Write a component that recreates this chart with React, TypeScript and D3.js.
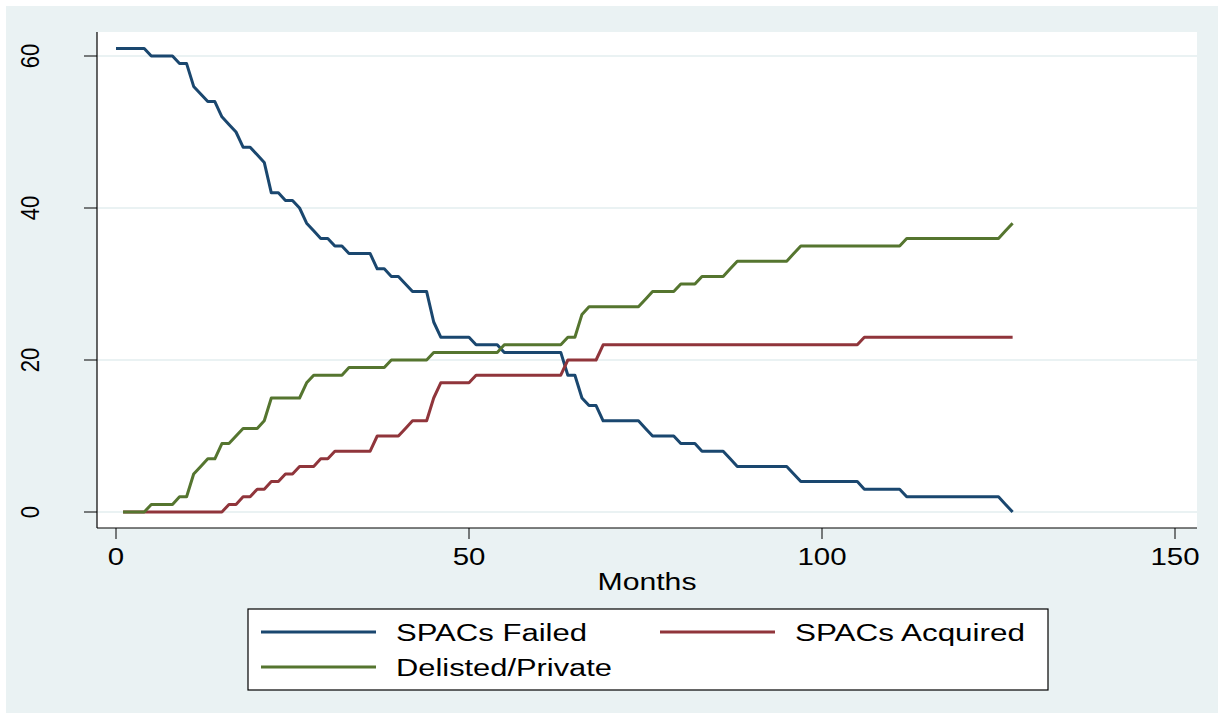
import React from "react";
import * as d3 from "d3";

// months since IPO, one value per month
const failedStart = 0;
const otherStart = 1;

const failed = [
    61, 61, 61, 61, 61, 60, 60, 60, 60, 59, 59, 56, 55, 54, 54, 52, 51, 50, 48, 48,
    47, 46, 42, 42, 41, 41, 40, 38, 37, 36, 36, 35, 35, 34, 34, 34, 34, 32, 32, 31,
    31, 30, 29, 29, 29, 25, 23, 23, 23, 23, 23, 22, 22, 22, 22, 21, 21, 21, 21, 21,
    21, 21, 21, 21, 18, 18, 15, 14, 14, 12, 12, 12, 12, 12, 12, 11, 10, 10, 10, 10,
    9, 9, 9, 8, 8, 8, 8, 7, 6, 6, 6, 6, 6, 6, 6, 6, 5, 4, 4, 4,
    4, 4, 4, 4, 4, 4, 3, 3, 3, 3, 3, 3, 2, 2, 2, 2, 2, 2, 2, 2,
    2, 2, 2, 2, 2, 2, 1, 0
];

const acquired = [
    0, 0, 0, 0, 0, 0, 0, 0, 0, 0, 0, 0, 0, 0, 0, 1, 1, 2, 2, 3,
    3, 4, 4, 5, 5, 6, 6, 6, 7, 7, 8, 8, 8, 8, 8, 8, 10, 10, 10, 10,
    11, 12, 12, 12, 15, 17, 17, 17, 17, 17, 18, 18, 18, 18, 18, 18, 18, 18, 18, 18,
    18, 18, 18, 20, 20, 20, 20, 20, 22, 22, 22, 22, 22, 22, 22, 22, 22, 22, 22, 22,
    22, 22, 22, 22, 22, 22, 22, 22, 22, 22, 22, 22, 22, 22, 22, 22, 22, 22, 22, 22,
    22, 22, 22, 22, 22, 23, 23, 23, 23, 23, 23, 23, 23, 23, 23, 23, 23, 23, 23, 23,
    23, 23, 23, 23, 23, 23, 23
];

const delisted = [
    0, 0, 0, 0, 1, 1, 1, 1, 2, 2, 5, 6, 7, 7, 9, 9, 10, 11, 11, 11,
    12, 15, 15, 15, 15, 15, 17, 18, 18, 18, 18, 18, 19, 19, 19, 19, 19, 19, 20, 20,
    20, 20, 20, 20, 21, 21, 21, 21, 21, 21, 21, 21, 21, 21, 22, 22, 22, 22, 22, 22,
    22, 22, 22, 23, 23, 26, 27, 27, 27, 27, 27, 27, 27, 27, 28, 29, 29, 29, 29, 30,
    30, 30, 31, 31, 31, 31, 32, 33, 33, 33, 33, 33, 33, 33, 33, 34, 35, 35, 35, 35,
    35, 35, 35, 35, 35, 35, 35, 35, 35, 35, 35, 36, 36, 36, 36, 36, 36, 36, 36, 36,
    36, 36, 36, 36, 36, 37, 38
];

const xTicks = [0, 50, 100, 150];
const yTicks = [0, 20, 40, 60];

const series = [
    { name: "SPACs Failed", values: failed, start: failedStart, color: "#1a476f" },
    { name: "SPACs Acquired", values: acquired, start: otherStart, color: "#90353b" },
    { name: "Delisted/Private", values: delisted, start: otherStart, color: "#55752f" }
];

const W = 1223;
const H = 719;
const plot = { left: 97, right: 1197, top: 32, bottom: 528 };
const font = "'Liberation Sans', Arial, Helvetica, sans-serif";
const bg = "#eaf2f3";
const stretch = 1.28; // the original's text is drawn wide

export default function App() {
    const x = d3.scaleLinear().domain([0, 150]).range([116, 1175]);
    const y = d3.scaleLinear().domain([0, 60]).range([512, 56]);

    const pathFor = (s) =>
        d3.line<number>()
            .x((d, i) => x(s.start + i))
            .y(d => y(d))(s.values);

    // legend layout: two columns, two rows
    const legendRows = [
        { s: series[0], lx: 261, tx: 396, ty: 632, tw: 191 },
        { s: series[1], lx: 660, tx: 795, ty: 632, tw: 230 },
        { s: series[2], lx: 261, tx: 396, ty: 667, tw: 216 }
    ];

    return (
        <svg width={W} height={H} style={{ position: "absolute", left: 0, top: 0 }}
            fontFamily={font}>
            <rect x={0} y={0} width={W} height={H} fill="#ffffff" />
            <rect x={6} y={6} width={1212} height={707} fill={bg} />
            <rect x={plot.left} y={plot.top} width={plot.right - plot.left}
                height={plot.bottom - plot.top} fill="#ffffff" />

            {/* grid */}
            {yTicks.map(t => (
                <line key={"g" + t} x1={plot.left} x2={plot.right} y1={y(t)} y2={y(t)}
                    stroke={bg} strokeWidth={2} />
            ))}

            {/* series, in Stata's draw order */}
            {series.map(s => (
                <path key={s.name} d={pathFor(s)} fill="none" stroke={s.color}
                    strokeWidth={3} strokeLinejoin="round" />
            ))}

            {/* axes */}
            <line x1={plot.left} x2={plot.left} y1={plot.top} y2={plot.bottom} stroke="#000" strokeWidth={1.2} />
            <line x1={plot.left} x2={plot.right} y1={plot.bottom} y2={plot.bottom} stroke="#000" strokeWidth={1.2} />

            {yTicks.map(t => (
                <g key={"y" + t}>
                    <line x1={84} x2={plot.left} y1={y(t)} y2={y(t)} stroke="#000" strokeWidth={1} />
                    <text transform={`translate(39,${y(t)}) rotate(-90) scale(1.05,1.25)`} textAnchor="middle"
                        fontSize={21} fill="#000">{t}</text>
                </g>
            ))}

            {xTicks.map(t => (
                <g key={"x" + t}>
                    <line x1={x(t)} x2={x(t)} y1={plot.bottom} y2={539} stroke="#000" strokeWidth={1} />
                    <text transform={`translate(${x(t)},565) scale(${stretch},1)`} textAnchor="middle"
                        fontSize={23} fill="#000">{t}</text>
                </g>
            ))}

            <text x={647} y={590} textAnchor="middle" fontSize={23} textLength={99}
                lengthAdjust="spacingAndGlyphs" fill="#000">Months</text>

            {/* legend */}
            <rect x={248} y={609} width={800} height={81} fill="#ffffff" stroke="#000" strokeWidth={1.2} />
            {legendRows.map(r => (
                <g key={"l" + r.s.name}>
                    <line x1={r.lx} x2={r.lx + 115} y1={r.ty} y2={r.ty} stroke={r.s.color} strokeWidth={3} />
                    <text x={r.tx} y={r.ty + 9} fontSize={23.5} textLength={r.tw}
                        lengthAdjust="spacingAndGlyphs" fill="#000">{r.s.name}</text>
                </g>
            ))}
        </svg>
    );
}
